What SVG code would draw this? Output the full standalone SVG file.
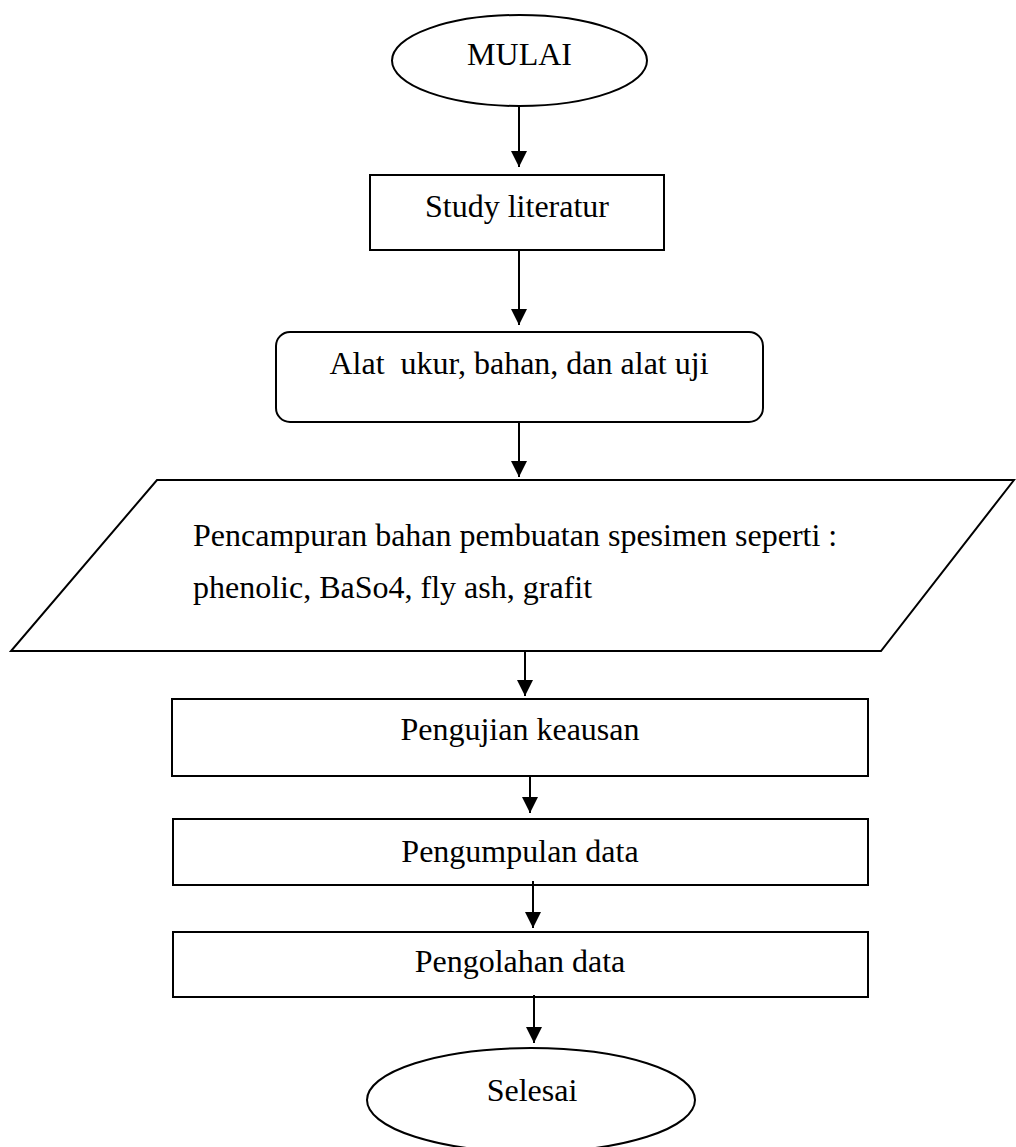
<svg xmlns="http://www.w3.org/2000/svg" width="1016" height="1147" viewBox="0 0 1016 1147">
<style>
.shape{fill:#fff;stroke:#000;stroke-width:2}
.lbl{font-family:"Liberation Serif","Times New Roman",serif;font-size:32px;fill:#000}
.c{text-anchor:middle}
.conn{stroke:#000;stroke-width:2;fill:none}
</style>
<defs>
<marker id="ah" markerUnits="userSpaceOnUse" markerWidth="16" markerHeight="16" viewBox="0 0 16 16" refX="16" refY="8" orient="auto">
<path d="M0,0 L16,8 L0,16 Z" fill="#000"/>
</marker>
</defs>
<rect width="1016" height="1147" fill="#fff"/>
<g id="mulai">
<ellipse class="shape" cx="519.5" cy="60.5" rx="127.5" ry="45.5"/>
<text class="lbl c" x="519.5" y="65">MULAI</text>
</g>
<g id="study">
<rect class="shape" x="370" y="175" width="294" height="75"/>
<text class="lbl c" x="517" y="217">Study literatur</text>
</g>
<g id="alat">
<rect class="shape" x="276" y="332" width="487" height="90" rx="14" ry="14"/>
<text class="lbl c" x="519" y="374" xml:space="preserve">Alat  ukur, bahan, dan alat uji</text>
</g>
<g id="pencampuran">
<polygon class="shape" points="157,480 1014,480 881,651 11,651"/>
<text class="lbl" x="193" y="546">Pencampuran bahan pembuatan spesimen seperti :</text>
<text class="lbl" x="193" y="598">phenolic, BaSo4, fly ash, grafit</text>
</g>
<g id="pengujian">
<rect class="shape" x="172" y="699" width="696" height="77"/>
<text class="lbl c" x="520" y="740">Pengujian keausan</text>
</g>
<g id="pengumpulan">
<rect class="shape" x="173" y="819" width="695" height="66"/>
<text class="lbl c" x="520" y="862">Pengumpulan data</text>
</g>
<g id="pengolahan">
<rect class="shape" x="173" y="932" width="695" height="65"/>
<text class="lbl c" x="520" y="972">Pengolahan data</text>
</g>
<g id="selesai">
<ellipse class="shape" cx="531" cy="1100" rx="164" ry="52"/>
<text class="lbl c" x="532" y="1101">Selesai</text>
</g>
<g id="connectors">
<line class="conn" x1="519" y1="106" x2="519" y2="167" marker-end="url(#ah)"/>
<line class="conn" x1="519" y1="250" x2="519" y2="325" marker-end="url(#ah)"/>
<line class="conn" x1="519" y1="422" x2="519" y2="477" marker-end="url(#ah)"/>
<line class="conn" x1="525" y1="651" x2="525" y2="696" marker-end="url(#ah)"/>
<line class="conn" x1="530" y1="776" x2="530" y2="813" marker-end="url(#ah)"/>
<line class="conn" x1="533" y1="881" x2="533" y2="928" marker-end="url(#ah)"/>
<line class="conn" x1="534" y1="995" x2="534" y2="1043" marker-end="url(#ah)"/>
</g>
</svg>
